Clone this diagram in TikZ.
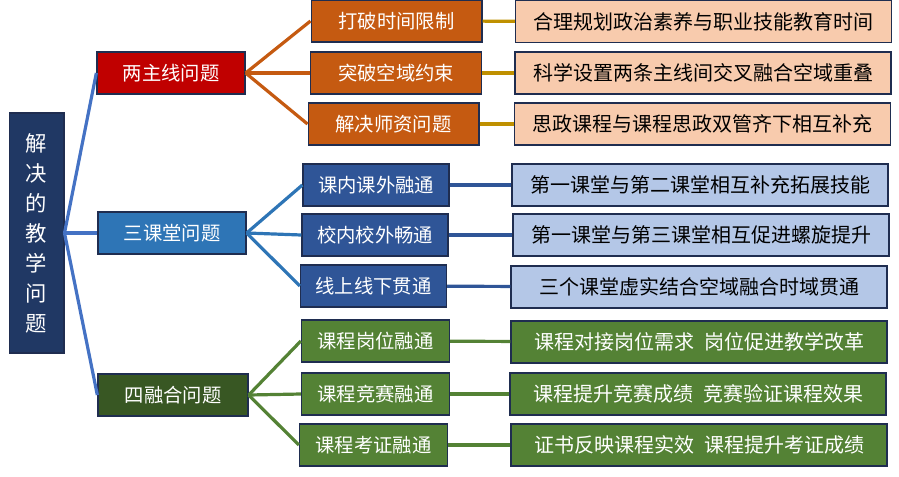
\documentclass[tikz,border=0pt]{standalone}
\usepackage{fontspec}
\setmainfont{Noto Sans CJK SC}
\usepackage{tikz}

\definecolor{rootnavy}{HTML}{203864}
\definecolor{boxline}{HTML}{1F2D50}
\definecolor{linkblue}{HTML}{4472C4}
\definecolor{redbox}{HTML}{C00000}
\definecolor{midblue}{HTML}{2E75B6}
\definecolor{deepgreen}{HTML}{385723}
\definecolor{rust}{HTML}{C55A11}
\definecolor{peach}{HTML}{F8CBAD}
\definecolor{gold}{HTML}{BF9000}
\definecolor{navyblue}{HTML}{2F5597}
\definecolor{paleblue}{HTML}{B4C7E7}
\definecolor{grassgreen}{HTML}{548235}

\begin{document}
\begin{tikzpicture}[x=0.75pt, y=-0.75pt]
    % Styles
    \tikzstyle{box} = [rectangle, draw=boxline, line width=1pt, minimum height=31.5pt, inner sep=0pt, align=center, font=\fontsize{14.5}{16}\selectfont]
    \tikzstyle{topic} = [box, minimum width=111pt, text=white]
    \tikzstyle{idea} = [box, minimum width=111pt, text=white]
    \tikzstyle{detail} = [box, minimum width=282pt, font=\fontsize{15}{17}\selectfont]
    \tikzstyle{link} = [line width=2.4pt]

    \useasboundingbox (0,0) rectangle (899,476);

    % Root
    \node[box, fill=rootnavy, text=white, minimum width=41pt, minimum height=180pt,
          font=\fontsize{16}{22.5}\selectfont] (Root) at (36.5, 233) {解\\决\\的\\教\\学\\问\\题};

    % First level
    \node[topic, fill=redbox] (Two) at (171, 73) {两主线问题};
    \node[topic, fill=midblue] (Three) at (172, 233) {三课堂问题};
    \node[topic, fill=deepgreen, minimum width=112.5pt] (Four) at (173, 395) {四融合问题};

    % Second level - two main lines
    \node[idea, fill=rust, minimum width=128pt] (TwoA) at (396.5, 21) {打破时间限制};
    \node[idea, fill=rust, minimum width=128pt] (TwoB) at (396, 73) {突破空域约束};
    \node[idea, fill=rust, minimum width=128pt] (TwoC) at (393.5, 124) {解决师资问题};

    % Second level - three classrooms
    \node[idea, fill=navyblue, minimum width=109.5pt] (ThreeA) at (376, 185) {课内课外融通};
    \node[idea, fill=navyblue, minimum width=109.5pt] (ThreeB) at (375, 235) {校内校外畅通};
    \node[idea, fill=navyblue, minimum width=109.5pt] (ThreeC) at (373.5, 286) {线上线下贯通};

    % Second level - four integrations
    \node[idea, fill=grassgreen] (FourA) at (375.5, 341) {课程岗位融通};
    \node[idea, fill=grassgreen] (FourB) at (375.5, 394) {课程竞赛融通};
    \node[idea, fill=grassgreen] (FourC) at (373.5, 445) {课程考证融通};

    % Third level
    \node[detail, fill=peach] (TwoAx) at (703.5, 21.5) {合理规划政治素养与职业技能教育时间};
    \node[detail, fill=peach] (TwoBx) at (703, 73) {科学设置两条主线间交叉融合空域重叠};
    \node[detail, fill=peach] (TwoCx) at (702.5, 124) {思政课程与课程思政双管齐下相互补充};
    \node[detail, fill=paleblue] (ThreeAx) at (700, 185) {第一课堂与第二课堂相互补充拓展技能};
    \node[detail, fill=paleblue] (ThreeBx) at (701, 235) {第一课堂与第三课堂相互促进螺旋提升};
    \node[detail, fill=paleblue] (ThreeCx) at (699, 287) {三个课堂虚实结合空域融合时域贯通};
    \node[detail, fill=grassgreen, text=white] (FourAx) at (699, 342) {课程对接岗位需求\hspace{0.5em}岗位促进教学改革};
    \node[detail, fill=grassgreen, text=white] (FourBx) at (698, 394) {课程提升竞赛成绩\hspace{0.5em}竞赛验证课程效果};
    \node[detail, fill=grassgreen, text=white] (FourCx) at (699, 445) {证书反映课程实效\hspace{0.5em}课程提升考证成绩};

    % Connectors
    \draw[link, linkblue] (Root.east) -- (Two.west);
    \draw[link, linkblue] (Root.east) -- (Three.west);
    \draw[link, linkblue] (Root.east) -- (Four.west);

    \draw[link, rust] (Two.east) -- (TwoA.west);
    \draw[link, rust] (Two.east) -- (TwoB.west);
    \draw[link, rust] (Two.east) -- (TwoC.west);
    \draw[link, midblue] (Three.east) -- (ThreeA.west);
    \draw[link, midblue] (Three.east) -- (ThreeB.west);
    \draw[link, midblue] (Three.east) -- (ThreeC.west);
    \draw[link, grassgreen] (Four.east) -- (FourA.west);
    \draw[link, grassgreen] (Four.east) -- (FourB.west);
    \draw[link, grassgreen] (Four.east) -- (FourC.west);

    \draw[link, gold] (TwoA) -- (TwoAx);
    \draw[link, gold] (TwoB) -- (TwoBx);
    \draw[link, gold] (TwoC) -- (TwoCx);
    \draw[link, navyblue] (ThreeA) -- (ThreeAx);
    \draw[link, navyblue] (ThreeB) -- (ThreeBx);
    \draw[link, navyblue] (ThreeC) -- (ThreeCx);
    \draw[link, grassgreen] (FourA) -- (FourAx);
    \draw[link, grassgreen] (FourB) -- (FourBx);
    \draw[link, grassgreen] (FourC) -- (FourCx);
\end{tikzpicture}
\end{document}
